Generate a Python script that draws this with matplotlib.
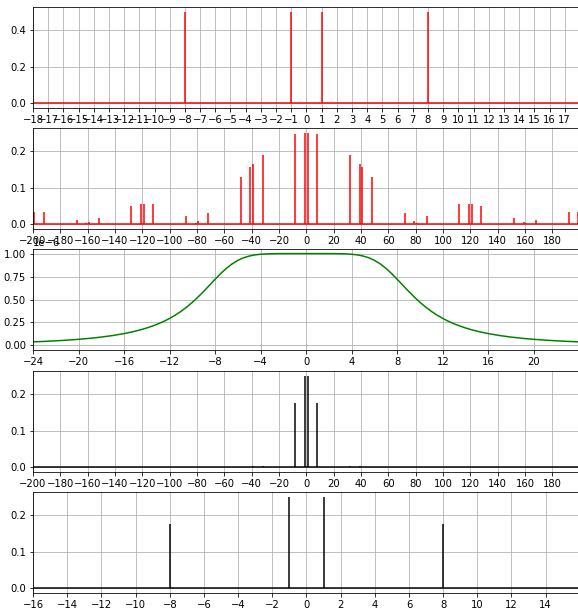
import matplotlib
matplotlib.use("Agg")
import matplotlib.pyplot as plt
from matplotlib.ticker import MultipleLocator

# --- spectrum of the original two-tone signal ---
tone_freqs = [-8, -1, 1, 8]
tone_amps = [0.5, 0.5, 0.5, 0.5]

# --- spectrum after pulse sampling (copies around multiples of 40) ---
sampled_freqs = [-199, -192, -168, -161, -159, -152, -128, -121, -119, -112,
                 -88, -81, -79, -72, -48, -41, -39, -32, -8, -1,
                 1, 8, 32, 39, 41, 48, 72, 79, 81, 88,
                 112, 119, 121, 128, 152, 159, 161, 168, 192, 199]
_half = [0.035, 0.033, 0.013, 0.003, 0.006, 0.018, 0.051, 0.056, 0.056, 0.056,
         0.023, 0.004, 0.008, 0.032, 0.128, 0.157, 0.164, 0.189, 0.244, 0.249]
sampled_amps = _half + _half[::-1]

# --- low-pass filter magnitude response (units of 1e-6), positive side ---
_freq_pos = [0, 0.5, 1, 1.5, 2, 2.5, 3, 3.5, 4, 4.5, 5, 5.5, 6, 6.5, 7, 7.5,
             8, 8.5, 9, 9.5, 10, 10.5, 11, 11.5, 12, 12.5, 13, 13.5, 14, 14.5,
             15, 15.5, 16, 17, 18, 19, 20, 21, 22, 23, 24]
_gain_pos = [1.0, 1.0, 1.0, 1.0, 0.9999, 0.9996, 0.9987, 0.9967, 0.9928,
             0.9856, 0.9735, 0.9544, 0.9265, 0.8885, 0.8402, 0.7832, 0.7202,
             0.6544, 0.5891, 0.5269, 0.4693, 0.4172, 0.3708, 0.3298, 0.2939,
             0.2625, 0.2351, 0.2112, 0.1901, 0.1717, 0.1556, 0.1413, 0.1287,
             0.1075, 0.0907, 0.0772, 0.0664, 0.0573, 0.0499, 0.0436, 0.0385]
filter_freqs = [-f for f in _freq_pos[:0:-1]] + _freq_pos
filter_gain = _gain_pos[:0:-1] + _gain_pos
gain_scale = 1e-6

# --- spectrum after filtering ---
filtered_freqs = [-48, -41, -39, -32, -8, -1, 1, 8, 32, 39, 41, 48]
filtered_amps = [0.001, 0.002, 0.0025, 0.005, 0.175, 0.249,
                 0.249, 0.175, 0.005, 0.0025, 0.002, 0.001]

# --- recovered baseband spectrum ---
recovered_freqs = [-8, -1, 1, 8]
recovered_amps = [0.175, 0.249, 0.249, 0.175]

W, H, DPI = 578, 611, 72
fig = plt.figure(figsize=(W / DPI, H / DPI), dpi=DPI)


def axes_px(top, bottom, left=33, right=W + 1):
    return fig.add_axes([left / W, 1 - bottom / H, (right - left) / W, (bottom - top) / H])


ax1 = axes_px(7, 108)
ax2 = axes_px(128, 229)
ax3 = axes_px(249, 350)
ax4 = axes_px(371, 472)
ax5 = axes_px(492, 593)


def spectrum(ax, freqs, amps, color, xlim, step):
    ax.vlines(freqs, 0, amps, color=color, lw=1.5)
    ax.axhline(0, color=color, lw=1.5)
    ax.set_xlim(*xlim)
    top = max(amps)
    ax.set_ylim(-0.05 * top, 1.05 * top)
    ax.xaxis.set_major_locator(MultipleLocator(step))
    ax.grid(True)


spectrum(ax1, tone_freqs, tone_amps, "red", (-18, 17.94), 1)
ax1.yaxis.set_major_locator(MultipleLocator(0.2))

spectrum(ax2, sampled_freqs, sampled_amps, "red", (-200, 199.6), 20)
ax2.yaxis.set_major_locator(MultipleLocator(0.1))

ax3.plot(filter_freqs, [g * gain_scale for g in filter_gain], color="green", lw=1.5)
ax3.set_xlim(-24, 23.97)
ax3.set_ylim(-0.05 * gain_scale, 1.05 * gain_scale)
ax3.xaxis.set_major_locator(MultipleLocator(4))
ax3.yaxis.set_major_locator(MultipleLocator(0.25 * gain_scale))
ax3.grid(True)

spectrum(ax4, filtered_freqs, filtered_amps, "black", (-200, 199.6), 20)
ax4.yaxis.set_major_locator(MultipleLocator(0.1))

spectrum(ax5, recovered_freqs, recovered_amps, "black", (-16, 15.95), 2)
ax5.yaxis.set_major_locator(MultipleLocator(0.1))

fig.savefig("out.png", dpi=DPI)
